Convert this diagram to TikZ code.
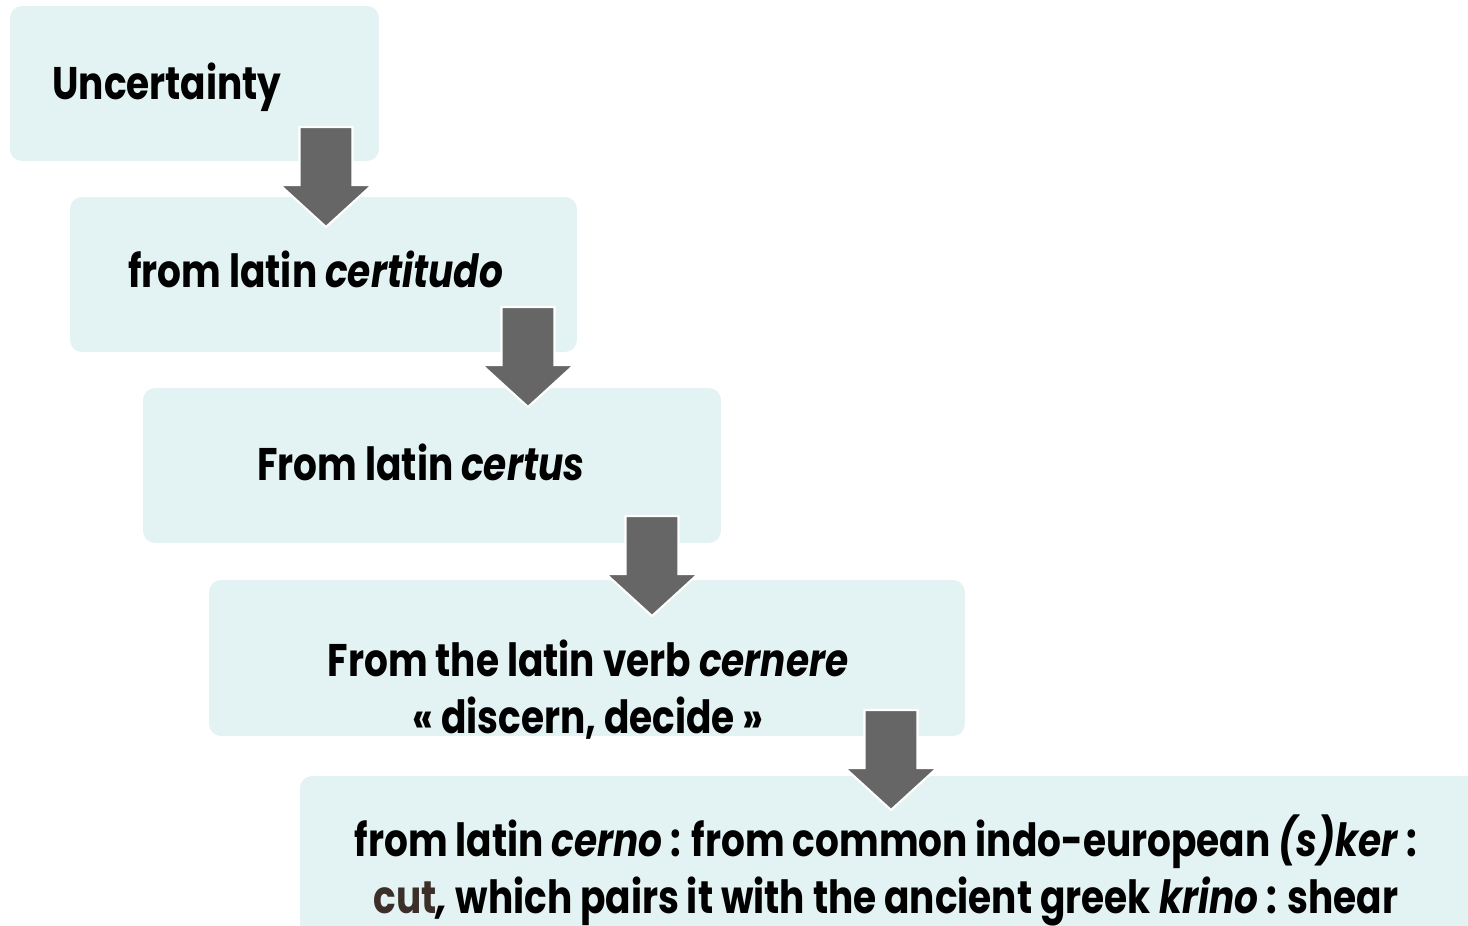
\documentclass[tikz,border=0pt]{standalone}
\usepackage{fontspec}
\setmainfont{Poppins}[FakeStretch=0.82]
\usetikzlibrary{positioning}
\definecolor{boxfill}{RGB}{227,242,243}
\definecolor{arrowgray}{RGB}{102,102,102}
\definecolor{cutbrown}{RGB}{60,46,40}
\tikzset{
  stage/.style={rectangle, fill=boxfill, rounded corners=0.24cm, inner sep=0pt},
  stagetext/.style={font=\fontsize{26}{32.4}\selectfont\bfseries, text=black,
    align=center, inner sep=0pt},
  downarrow/.style={fill=arrowgray, draw=white, line width=1.2pt, line join=miter}
}
% block arrow: name, centre x, top y
\newcommand{\blockarrow}[3]{%
  \path[downarrow] (#2-26.5,#3) -- (#2+26.5,#3) -- (#2+26.5,#3+58) -- (#2+46,#3+58)
    -- (#2,#3+100) -- (#2-46,#3+58) -- (#2-26.5,#3+58) -- cycle;
  \coordinate (#1) at (#2,#3+100);
}

\begin{document}
\begin{tikzpicture}[x=0.02cm, y=-0.02cm]
  \useasboundingbox (0,0) rectangle (1468,926);
  \clip (0,0) rectangle (1468,926);

  % boxes
  \node (uncertainty) [stage, minimum width=7.38cm, minimum height=3.10cm] at (194.5,83.5) {};
  \node (certitudo) [stage, minimum width=10.14cm, minimum height=3.10cm] at (323.5,274.5) {};
  \node (certus) [stage, minimum width=11.56cm, minimum height=3.10cm] at (432,465.5) {};
  \node (cernere) [stage, minimum width=15.12cm, minimum height=3.12cm] at (587,658) {};
  \node (cerno) [stage, minimum width=23.6cm, minimum height=3.64cm] at (890,867) {};

  % texts
  \node (t1) [stagetext, anchor=base west] at (52,100) {Uncertainty};
  \node (t2) [stagetext, anchor=base west] at (128,287) {from latin \textit{certitudo}};
  \node (t3) [stagetext, anchor=base west] at (257,480) {From latin \textit{certus}};
  \node (t4) [stagetext, anchor=base] at (588,733) {From the latin verb \textit{cernere}\\« discern, decide »};
  \node (t5) [stagetext, anchor=base] at (886,913) {from latin \textit{cerno} : from common indo-european \textit{(s)ker} :\\{\color{cutbrown}cut}\textit{,} which pairs it with the ancient greek \textit{krino} : shear};

  % arrows
  \blockarrow{a1}{326}{127}
  \blockarrow{a2}{528}{307}
  \blockarrow{a3}{652}{516}
  \blockarrow{a4}{891}{710}
\end{tikzpicture}
\end{document}
